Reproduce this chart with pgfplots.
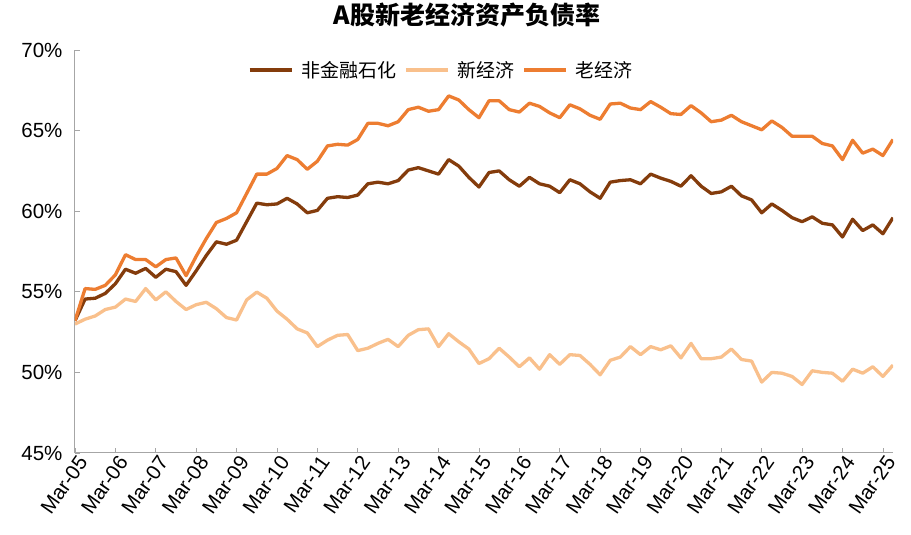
\documentclass[border=0pt]{standalone}
\usepackage{pgfplots}
\usepackage{pgfplotstable}
\pgfplotsset{compat=1.18}
\usepackage{fontspec}
\setmainfont{Liberation Sans}
\newfontfamily\cjk{Noto Sans CJK SC}
\definecolor{cdark}{HTML}{843C0C}
\definecolor{clight}{HTML}{F9C08C}
\definecolor{corange}{HTML}{ED7D31}
\definecolor{caxis}{HTML}{A6A6A6}
\pgfplotstableread{
x a b c
0 53.2 53.0 53.2
1 54.55 53.3 55.2
2 54.6 53.5 55.15
3 54.9 53.9 55.4
4 55.5 54.05 56.05
5 56.4 54.55 57.3
6 56.15 54.4 57.0
7 56.45 55.2 57.0
8 55.9 54.5 56.55
9 56.4 55.0 57.0
10 56.25 54.4 57.1
11 55.4 53.9 56.0
12 56.3 54.2 57.2
13 57.25 54.35 58.3
14 58.1 53.95 59.3
15 57.95 53.4 59.55
16 58.2 53.25 59.9
17 59.35 54.5 61.1
18 60.5 54.98 62.3
19 60.4 54.6 62.3
20 60.45 53.8 62.65
21 60.8 53.3 63.45
22 60.45 52.7 63.2
23 59.9 52.45 62.6
24 60.05 51.6 63.1
25 60.8 52.0 64.05
26 60.9 52.3 64.15
27 60.85 52.35 64.1
28 61.0 51.35 64.45
29 61.7 51.5 65.45
30 61.8 51.8 65.45
31 61.7 52.05 65.3
32 61.9 51.6 65.55
33 62.55 52.3 66.3
34 62.7 52.65 66.45
35 62.5 52.7 66.2
36 62.3 51.6 66.3
37 63.2 52.4 67.15
38 62.8 51.9 66.9
39 62.1 51.45 66.3
40 61.5 50.55 65.8
41 62.4 50.85 66.85
42 62.5 51.5 66.85
43 61.95 50.95 66.3
44 61.55 50.35 66.15
45 62.1 50.9 66.7
46 61.7 50.2 66.5
47 61.55 51.1 66.1
48 61.15 50.5 65.8
49 61.95 51.1 66.6
50 61.7 51.05 66.35
51 61.2 50.5 65.95
52 60.8 49.85 65.7
53 61.8 50.75 66.65
54 61.9 50.95 66.7
55 61.95 51.6 66.4
56 61.7 51.1 66.3
57 62.3 51.6 66.8
58 62.05 51.4 66.45
59 61.85 51.65 66.05
60 61.55 50.9 66.0
61 62.2 51.8 66.55
62 61.55 50.85 66.1
63 61.1 50.85 65.55
64 61.2 50.95 65.65
65 61.55 51.45 65.95
66 60.95 50.8 65.55
67 60.7 50.7 65.3
68 59.9 49.4 65.05
69 60.45 50.0 65.6
70 60.05 49.95 65.2
71 59.6 49.75 64.65
72 59.35 49.25 64.65
73 59.65 50.1 64.65
74 59.25 50.0 64.2
75 59.15 49.95 64.05
76 58.4 49.45 63.2
77 59.5 50.2 64.4
78 58.8 49.95 63.6
79 59.15 50.35 63.85
80 58.6 49.75 63.45
81 59.6 50.45 64.45
}\datatable
\begin{document}
\begin{tikzpicture}
\begin{axis}[
  at={(75pt,82pt)}, anchor=south west,
  scale only axis, width=818pt, height=403pt,
  xmin=0, xmax=81, ymin=45, ymax=70,
  axis lines=left, axis line style={-, caxis, line width=1pt},
  tick style={caxis, line width=0.8pt}, tick align=inside, major tick length=5pt,
  xtick={0,4,...,80},
  xticklabels={Mar-05,Mar-06,Mar-07,Mar-08,Mar-09,Mar-10,Mar-11,Mar-12,Mar-13,Mar-14,Mar-15,Mar-16,Mar-17,Mar-18,Mar-19,Mar-20,Mar-21,Mar-22,Mar-23,Mar-24,Mar-25},
  x tick label style={rotate=55, anchor=north east, font=\fontsize{20.5}{22}\selectfont, inner sep=1pt, xshift=1pt, yshift=-1pt},
  ytick={45,50,...,70},
  yticklabel={\pgfmathprintnumber{\tick}\%},
  /pgf/number format/assume math mode=true,
  y tick label style={font=\fontsize{20.5}{22}\selectfont, xshift=-9pt},
  title={\cjk\bfseries A股新老经济资产负债率},
  title style={at={(0.479,1)}, anchor=center, yshift=29pt, font=\fontsize{25}{28}\selectfont},
  legend columns=-1,
  legend style={at={(0.448,1)}, anchor=center, yshift=-20pt, draw=none, fill=none,
    font=\cjk\fontsize{19}{22}\selectfont, column sep=6pt},
  legend image code/.code={\draw[#1] (0pt,0pt) -- (42pt,0pt);},
  every axis plot/.append style={line width=3.3pt, line join=round, mark=none},
]
\addplot[cdark] table[x=x, y=a] {\datatable};
\addlegendentry{非金融石化}
\addplot[clight] table[x=x, y=b] {\datatable};
\addlegendentry{新经济}
\addplot[corange] table[x=x, y=c] {\datatable};
\addlegendentry{老经济}
\end{axis}
\pgfresetboundingbox
\path[use as bounding box] (0,0) rectangle (911pt,535pt);
\end{tikzpicture}
\end{document}
